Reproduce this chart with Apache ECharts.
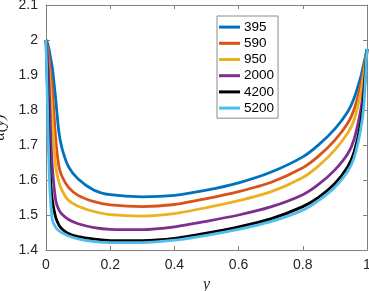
<!DOCTYPE html>
<html>
<head>
<meta charset="utf-8">
<script src="https://cdn.jsdelivr.net/npm/echarts@6/dist/echarts.min.js"></script>
<style>
html,body{margin:0;padding:0;background:#fff;}
#c{width:369px;height:291px;}
</style>
</head>
<body>
<div id="c"></div>
<script>
// Data
const X = [0, 0.005, 0.01, 0.015, 0.02, 0.03, 0.04, 0.05, 0.07, 0.1, 0.15, 0.2, 0.3, 0.4, 0.5, 0.6, 0.7, 0.8, 0.85, 0.9, 0.94, 0.96, 0.98, 0.99, 1];
const S395  = [2.0, 1.99, 1.97, 1.945, 1.919, 1.833, 1.738, 1.69, 1.638, 1.603, 1.571, 1.558, 1.552, 1.556, 1.571, 1.592, 1.622, 1.666, 1.701, 1.746, 1.795, 1.834, 1.893, 1.932, 1.974];
const S590  = [2.0, 1.975, 1.94, 1.90, 1.855, 1.72, 1.64, 1.61, 1.579, 1.556, 1.538, 1.529, 1.524, 1.530, 1.547, 1.567, 1.593, 1.635, 1.669, 1.714, 1.762, 1.802, 1.868, 1.916, 1.974];
const S950  = [2.0, 1.96, 1.91, 1.85, 1.77, 1.64, 1.595, 1.57, 1.542, 1.525, 1.51, 1.501, 1.497, 1.504, 1.521, 1.541, 1.566, 1.607, 1.641, 1.686, 1.734, 1.772, 1.846, 1.900, 1.974];
const S2000 = [2.0, 1.95, 1.86, 1.72, 1.633, 1.543, 1.515, 1.502, 1.487, 1.475, 1.464, 1.459, 1.458, 1.466, 1.482, 1.500, 1.523, 1.558, 1.588, 1.629, 1.675, 1.717, 1.797, 1.865, 1.974];
const S4200 = [2.0, 1.85, 1.68, 1.586, 1.54, 1.494, 1.472, 1.46, 1.447, 1.438, 1.431, 1.427, 1.427, 1.433, 1.448, 1.466, 1.489, 1.524, 1.551, 1.590, 1.638, 1.680, 1.760, 1.840, 1.974];
const S5200 = [2.0, 1.8, 1.62, 1.53, 1.485, 1.465, 1.455, 1.449, 1.44, 1.432, 1.424, 1.421, 1.421, 1.428, 1.442, 1.459, 1.481, 1.514, 1.542, 1.579, 1.625, 1.664, 1.743, 1.812, 1.975];
const NAMES = ['395', '590', '950', '2000', '4200', '5200'];
const VALUES = [S395, S590, S950, S2000, S4200, S5200];
const COLORS = ['#0072BD', '#D95319', '#EDB120', '#7E2F8E', '#000000', '#4DBEEE'];

const axisColor = '#808080';
const textColor = '#262626';
const font = 'Liberation Sans, Arial, sans-serif';

const chart = echarts.init(document.getElementById('c'), null, {renderer: 'canvas'});
const series = NAMES.map((n, i) => ({
  name: n,
  type: 'line',
  data: X.map((x, j) => [x, VALUES[i][j]]),
  showSymbol: false,
  symbol: 'none',
  smooth: 0.25,
  clip: false,
  lineStyle: {width: 2.8, color: COLORS[i]},
  itemStyle: {color: COLORS[i]},
  xAxisIndex: 0,
  yAxisIndex: 0
}));

const tickCommon = {show: true, inside: true, length: 4, lineStyle: {color: axisColor, width: 1}};
const lineCommon = {show: true, onZero: false, lineStyle: {color: axisColor, width: 1}};

chart.setOption({
  animation: false,
  backgroundColor: '#fff',
  grid: {left: 46, right: 2, top: 5, bottom: 41, containLabel: false, outerBoundsMode: 'none'},
  legend: {
    data: NAMES,
    orient: 'vertical',
    left: 217,
    top: 16,
    padding: [3, 4, 2, 2],
    itemGap: 0,
    itemWidth: 21,
    itemHeight: 3,
    icon: 'rect',
    backgroundColor: '#fff',
    borderColor: '#8c8c8c',
    borderWidth: 1,
    borderRadius: 0,
    textStyle: {fontSize: 13.5, fontFamily: font, color: '#000', lineHeight: 16.2, padding: [0, 0, 0, -1]}
  },
  xAxis: [{
    type: 'value', min: 0, max: 1, interval: 0.2,
    position: 'bottom',
    name: 'y', nameLocation: 'middle', nameGap: 27,
    nameTextStyle: {fontFamily: 'Liberation Serif, DejaVu Serif, serif', fontStyle: 'italic', fontSize: 16, color: textColor},
    axisLine: lineCommon, axisTick: tickCommon, splitLine: {show: false},
    axisLabel: {color: textColor, fontSize: 14, fontFamily: font, margin: 8,
      formatter: v => String(+v.toFixed(1))}
  }, {
    type: 'value', min: 0, max: 1, interval: 0.2, position: 'top',
    axisLine: lineCommon, axisTick: tickCommon, splitLine: {show: false},
    axisLabel: {show: false}
  }],
  yAxis: [{
    type: 'value', min: 1.4, max: 2.1, interval: 0.1,
    position: 'left',
    name: 'α(y)', nameLocation: 'middle', nameGap: 24,
    nameTextStyle: {fontFamily: 'Liberation Serif, DejaVu Serif, serif', fontStyle: 'italic', fontSize: 16, color: textColor},
    axisLine: lineCommon, axisTick: tickCommon, splitLine: {show: false},
    axisLabel: {color: textColor, fontSize: 14, fontFamily: font, margin: 8,
      formatter: v => String(+v.toFixed(1))}
  }, {
    type: 'value', min: 1.4, max: 2.1, interval: 0.1, position: 'right',
    axisLine: lineCommon, axisTick: tickCommon, splitLine: {show: false},
    axisLabel: {show: false}
  }],
  series: series
});
</script>
</body>
</html>
